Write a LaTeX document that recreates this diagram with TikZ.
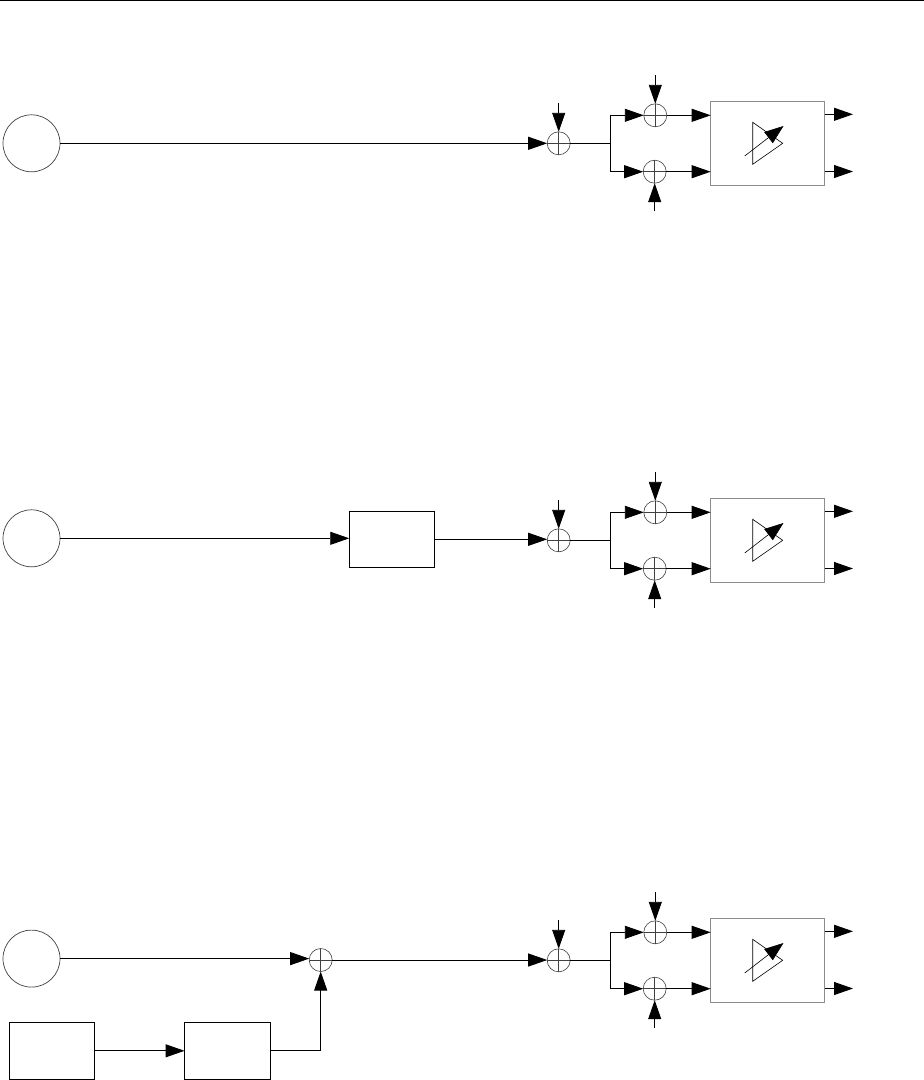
\documentclass[tikz,border=0pt]{standalone}
\usetikzlibrary{arrows.meta,positioning}
\tikzset{
	flow/.style={line width=0.9pt,-{Triangle[length=19pt,width=13pt]}},
	wire/.style={line width=0.9pt},
	srcnode/.style={circle,draw=black!75,line width=0.7pt,minimum size=57pt,inner sep=0pt,outer sep=0pt},
	sumnode/.style={circle,draw=black!75,line width=0.6pt,minimum size=23pt,inner sep=0pt,outer sep=0pt,
		path picture={
			\draw[line width=0.8pt] (path picture bounding box.north) -- (path picture bounding box.south);
			\draw[line width=0.8pt] (path picture bounding box.west) -- (path picture bounding box.east);
		}},
	gainbox/.style={rectangle,draw=black!45,line width=0.9pt,minimum width=114pt,minimum height=84.5pt,inner sep=0pt,outer sep=0pt},
	blockbox/.style={rectangle,draw,line width=0.9pt,minimum width=85.5pt,minimum height=56.5pt,inner sep=0pt,outer sep=0pt}
}
\begin{document}
\begin{tikzpicture}[x=1pt,y=-1pt]
	\useasboundingbox (0,0) rectangle (924,1080);
	\coordinate (ruleL) at (0,0.6);
	\coordinate (ruleR) at (924,0.6);
	\draw[line width=1.2pt] (ruleL) -- (ruleR);
	% the output stage, the same in all three rows
	\foreach \row/\dy in {a/0,b/397,c/817} {
		\node[sumnode] (sumin\row) at (558.7,143.3+\dy) {};
		\node[sumnode] (sumup\row) at (655.3,115.3+\dy) {};
		\node[sumnode] (sumlo\row) at (654.7,171.7+\dy) {};
		\node[gainbox] (gain\row) at (767.7,143.5+\dy) {};
		\coordinate (jct\row) at (610.3,143.3+\dy);
		\coordinate (topin\row) at (558.7,103+\dy);
		\coordinate (topup\row) at (655.3,75+\dy);
		\coordinate (botlo\row) at (654.7,211+\dy);
		\coordinate (outup\row) at (853,114.3+\dy);
		\coordinate (outlo\row) at (853,171.5+\dy);
		\draw[flow] (topin\row) -- (sumin\row.north);
		\draw[flow] (topup\row) -- (sumup\row.north);
		\draw[flow] (botlo\row) -- (sumlo\row.south);
		\draw[wire] (sumin\row.east) -- (jct\row);
		\draw[flow] (jct\row) |- (sumup\row.west);
		\draw[flow] (jct\row) |- (sumlo\row.west);
		\draw[flow] (sumup\row.east) -- (sumup\row.east -| gain\row.west);
		\draw[flow] (sumlo\row.east) -- (sumlo\row.east -| gain\row.west);
		\draw[flow] (outup\row -| gain\row.east) -- (outup\row);
		\draw[flow] (outlo\row -| gain\row.east) -- (outlo\row);
		% amplifier symbol
		\draw[line width=0.6pt] (752.7,122.3+\dy) -- (782.7,143.3+\dy) -- (752.7,164.3+\dy) -- cycle;
		\draw[line width=0.6pt,-{Triangle[length=19pt,width=14pt]}] (744.7,156+\dy) -- (783.5,126+\dy);
	}
	% row a
	\node[srcnode] (srca) at (31.5,143.3) {};
	\draw[flow] (srca.east) -- (srca.east -| sumina.west);
	% row b
	\node[srcnode] (srcb) at (31.5,538.3) {};
	\node[blockbox] (filtb) at (392,539.3) {};
	\draw[flow] (srcb.east) -- (srcb.east -| filtb.west);
	\draw[flow] (filtb.east) -- (filtb.east -| suminb.west);
	% row c
	\node[srcnode] (srcc) at (31.5,958.6) {};
	\node[sumnode] (sumc) at (320.7,960) {};
	\node[blockbox] (genc) at (52,1050.8) {};
	\node[blockbox] (filtc) at (227.3,1050.8) {};
	\draw[flow] (srcc.east) -- (srcc.east -| sumc.west);
	\draw[flow] (sumc.east) -- (sumc.east -| suminc.west);
	\draw[flow] (genc.east) -- (filtc.west);
	\draw[flow] (filtc.east) -| (sumc.south);
\end{tikzpicture}
\end{document}
